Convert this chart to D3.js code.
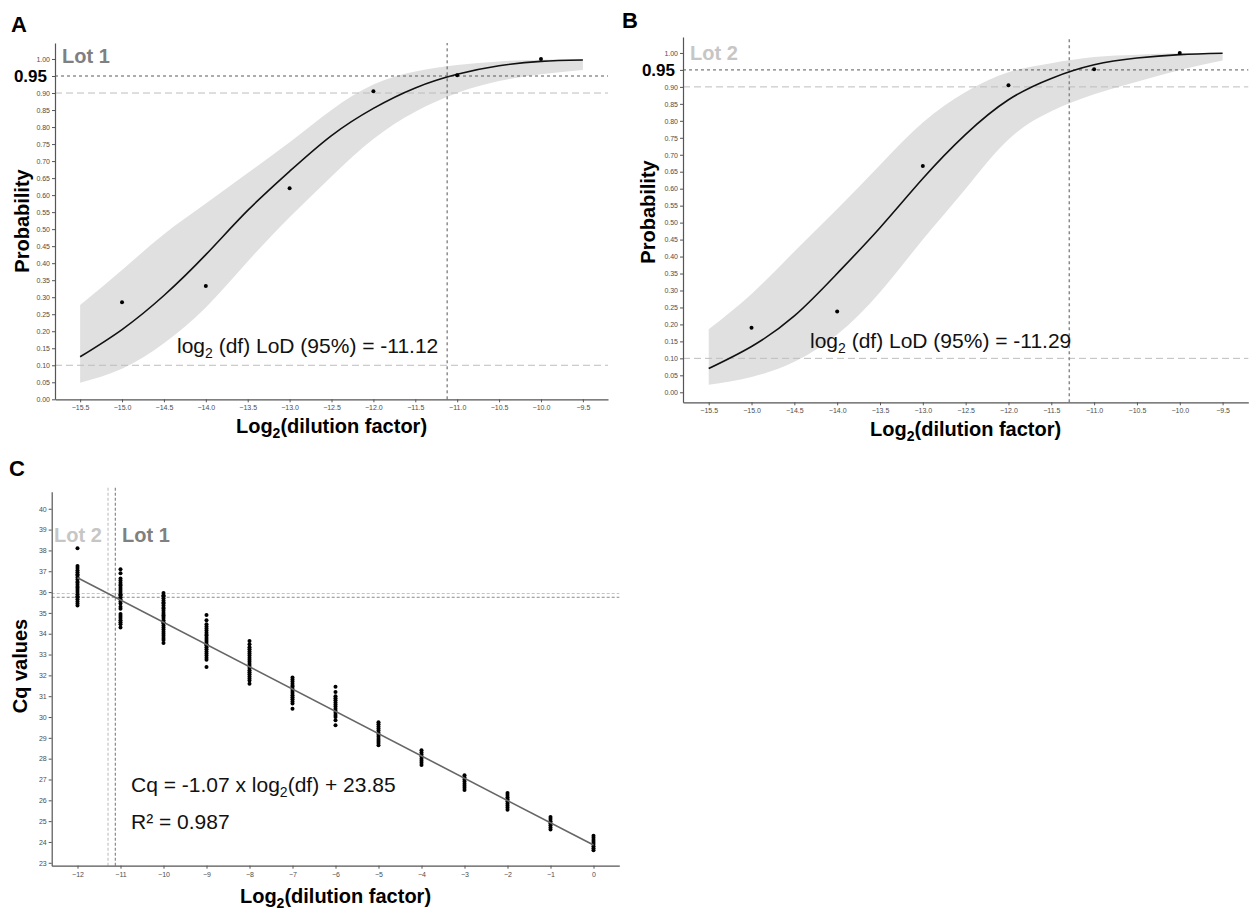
<!DOCTYPE html>
<html>
<head>
<meta charset="utf-8">
<script src="https://cdn.jsdelivr.net/npm/d3@7"></script>
<style>
  body { margin: 0; background: #fff; }
  svg { font-family: "Liberation Sans", Arial, sans-serif; }
  .tick text { fill: #4d4d4d; font-size: 7px; }
  .tick line { stroke: #555; }
  .domain { stroke: #555; stroke-width: 1.2; }
</style>
</head>
<body>
<div id="container"></div>
<script>
/* DATA */
// probit panels (A, B): fitted curve and confidence band read at every 0.5 log2 unit
const gridX = [-15.5, -15, -14.5, -14, -13.5, -13, -12.5, -12, -11.5, -11, -10.5, -10, -9.5];
const obsX = [-15, -14, -13, -12, -11, -10];

const lot1Obs = [0.285, 0.333, 0.62, 0.905, 0.952, 1.0];
const lot1Fit = [0.125, 0.205, 0.305, 0.425, 0.555, 0.67, 0.775, 0.855, 0.915, 0.955, 0.98, 0.993, 0.997];
const lot1Upper = [0.277, 0.38, 0.485, 0.575, 0.665, 0.755, 0.85, 0.925, 0.963, 0.982, 0.993, 0.998, 1.0];
const lot1Lower = [0.049, 0.09, 0.165, 0.27, 0.405, 0.535, 0.655, 0.765, 0.845, 0.9, 0.935, 0.955, 0.968];

const lot2Obs = [0.19, 0.238, 0.667, 0.905, 0.952, 1.0];
const lot2Fit = [0.07, 0.135, 0.225, 0.35, 0.485, 0.63, 0.76, 0.862, 0.925, 0.965, 0.985, 0.995, 0.999];
const lot2Upper = [0.186, 0.29, 0.415, 0.54, 0.67, 0.795, 0.885, 0.943, 0.97, 0.988, 0.995, 0.999, 1.0];
const lot2Lower = [0.022, 0.045, 0.09, 0.17, 0.295, 0.45, 0.6, 0.745, 0.828, 0.878, 0.915, 0.95, 0.978];

const lodLot1 = -11.12, lodLot2 = -11.29;
const refProbs = [0.95, 0.90, 0.10];

const probTicks = [0, 0.05, 0.1, 0.15, 0.2, 0.25, 0.3, 0.35, 0.4, 0.45, 0.5,
  0.55, 0.6, 0.65, 0.7, 0.75, 0.8, 0.85, 0.9, 0.95, 1.0];
const dilTicks = [-15.5, -15, -14.5, -14, -13.5, -13, -12.5, -12, -11.5, -11, -10.5, -10, -9.5];

// standard curve panel (C)
const cqX = [-12, -11, -10, -9, -8, -7, -6, -5, -4, -3, -2, -1, 0];
const cqColumns = [
  [38.1, 37.25, 37.15, 37.05, 36.95, 36.85, 36.8, 36.7, 36.6, 36.5, 36.45, 36.35, 36.25, 36.2, 36.1, 36.0, 35.9, 35.8, 35.75, 35.65, 35.55, 35.45, 35.35],
  [37.1, 36.9, 36.65, 36.55, 36.45, 36.35, 36.3, 36.2, 36.1, 36.0, 35.9, 35.85, 35.75, 35.65, 35.55, 35.45, 35.3, 35.2, 34.95, 34.85, 34.75, 34.65, 34.55, 34.45, 34.3],
  [35.95, 35.85, 35.8, 35.7, 35.6, 35.5, 35.45, 35.35, 35.25, 35.2, 35.1, 35.0, 34.9, 34.85, 34.75, 34.65, 34.55, 34.5, 34.4, 34.3, 34.2, 34.1, 34.0, 33.9, 33.8, 33.7, 33.55],
  [34.9, 34.65, 34.45, 34.35, 34.25, 34.15, 34.05, 33.95, 33.9, 33.8, 33.7, 33.6, 33.5, 33.45, 33.35, 33.25, 33.15, 33.05, 32.95, 32.85, 32.75, 32.4],
  [33.65, 33.5, 33.35, 33.25, 33.15, 33.05, 32.95, 32.85, 32.75, 32.65, 32.55, 32.45, 32.35, 32.25, 32.15, 32.05, 31.95, 31.85, 31.75, 31.6],
  [31.9, 31.8, 31.7, 31.6, 31.5, 31.45, 31.35, 31.25, 31.15, 31.05, 30.95, 30.85, 30.75, 30.65, 30.4],
  [31.45, 31.2, 31.0, 30.9, 30.8, 30.7, 30.6, 30.5, 30.4, 30.3, 30.2, 30.1, 30.0, 29.85, 29.6],
  [29.75, 29.65, 29.55, 29.45, 29.35, 29.25, 29.15, 29.05, 28.95, 28.85, 28.75, 28.65],
  [28.4, 28.3, 28.2, 28.1, 28.0, 27.9, 27.8, 27.7],
  [27.2, 27.1, 27.0, 26.9, 26.8, 26.7, 26.6, 26.5],
  [26.35, 26.25, 26.15, 26.05, 25.95, 25.85, 25.75, 25.65, 25.55],
  [25.2, 25.1, 25.0, 24.9, 24.8, 24.7, 24.6],
  [24.3, 24.2, 24.1, 24.0, 23.9, 23.8, 23.7, 23.6]
];
const fitLineX = [-12, 0];
const fitLineCq = [36.69, 23.85];
const cqLodLot1 = 35.75, cqLodLot2 = 35.93;
const cqTicks = [23, 24, 25, 26, 27, 28, 29, 30, 31, 32, 33, 34, 35, 36, 37, 38, 39, 40];

/* CONSTANTS */
const width = 1259, height = 912;
const lot1Color = "#808080", lot2Color = "#c6c6c6";

const svg = d3.select("#container")
  .append("svg")
  .attr("width", width)
  .attr("height", height);

svg.append("rect").attr("width", width).attr("height", height).attr("fill", "#fff");

// bold axis title with a subscript 2 in "Log2"
function log2Title(g, x, y) {
  const t = g.append("text")
    .attr("x", x).attr("y", y)
    .attr("text-anchor", "middle")
    .attr("font-weight", "bold")
    .attr("font-size", 20);
  t.append("tspan").text("Log");
  t.append("tspan").attr("font-size", 14).attr("dy", 5).text("2");
  t.append("tspan").attr("dy", -5).text("(dilution factor)");
}

function hLine(g, xs, y, color, dash, w) {
  g.append("line")
    .attr("x1", xs.range()[0]).attr("x2", xs.range()[1])
    .attr("y1", y).attr("y2", y)
    .attr("stroke", color).attr("stroke-width", w || 1)
    .attr("stroke-dasharray", dash);
}

/* PANELS A and B */
function probitPanel(opt) {
  const g = svg.append("g");

  const xScale = d3.scaleLinear().domain([-15.8, -9.2]).range([opt.x0, opt.x1]);
  const yScale = d3.scaleLinear().domain(opt.yDomain).range([opt.y0, opt.y1]);

  // confidence band
  const band = d3.area()
    .x((d, i) => xScale(gridX[i]))
    .y0((d, i) => yScale(opt.lower[i]))
    .y1((d, i) => yScale(opt.upper[i]))
    .curve(d3.curveNatural);
  g.append("path").datum(gridX).attr("d", band).attr("fill", "#e0e0e0");

  // reference lines
  hLine(g, xScale, yScale(refProbs[1]), "#bdbdbd", "7,4");
  hLine(g, xScale, yScale(refProbs[2]), "#bdbdbd", "7,4");
  hLine(g, xScale, yScale(refProbs[0]), "#5a5a5a", "3,3");
  g.append("line")
    .attr("x1", xScale(opt.lod)).attr("x2", xScale(opt.lod))
    .attr("y1", opt.y0).attr("y2", opt.y1)
    .attr("stroke", opt.vColor).attr("stroke-width", opt.vWidth)
    .attr("stroke-dasharray", "3,3");

  // fitted curve
  const line = d3.line()
    .x((d, i) => xScale(gridX[i]))
    .y(d => yScale(d))
    .curve(d3.curveNatural);
  g.append("path").datum(opt.fit).attr("d", line)
    .attr("fill", "none").attr("stroke", "#111").attr("stroke-width", 1.6);

  // observed hit rates
  g.selectAll(".pt")
    .data(opt.obs)
    .join("circle")
    .attr("cx", (d, i) => xScale(obsX[i]))
    .attr("cy", d => yScale(d))
    .attr("r", 2)
    .attr("fill", "#000");

  // axes (the 0.95 tick label is replaced by the large bold one)
  g.append("g")
    .attr("transform", `translate(0, ${opt.y0})`)
    .call(d3.axisBottom(xScale).tickValues(dilTicks).tickFormat(d3.format(".1f"))
      .tickSize(3).tickSizeOuter(0).tickPadding(3));
  g.append("g")
    .attr("transform", `translate(${opt.x0}, 0)`)
    .call(d3.axisLeft(yScale).tickValues(probTicks)
      .tickFormat(d => d === 0.95 ? "" : d3.format(".2f")(d))
      .tickSize(3).tickSizeOuter(0).tickPadding(2));

  // labels
  g.append("text").attr("x", opt.letterX).attr("y", opt.letterY)
    .attr("font-weight", "bold").attr("font-size", 22).text(opt.letter);
  g.append("text").attr("x", opt.x0 - 8).attr("y", yScale(0.95) + 6)
    .attr("text-anchor", "end").attr("font-weight", "bold").attr("font-size", 17).text("0.95");
  g.append("text").attr("x", opt.x0 + 7).attr("y", opt.lotY)
    .attr("font-weight", "bold").attr("font-size", 20).attr("fill", opt.lotColor).text(opt.lot);

  g.append("text")
    .attr("transform", `translate(${opt.yTitleX}, ${opt.yTitleY}) rotate(-90)`)
    .attr("text-anchor", "middle").attr("font-weight", "bold").attr("font-size", 20)
    .text("Probability");
  log2Title(g, (opt.x0 + opt.x1) / 2, opt.xTitleY);

  const t = g.append("text").attr("x", opt.lodTextX).attr("y", opt.lodTextY)
    .attr("font-size", 21).attr("fill", "#111");
  t.append("tspan").text("log");
  t.append("tspan").attr("font-size", 14).attr("dy", 5).text("2");
  t.append("tspan").attr("dy", -5).text(` (df) LoD (95%) = ${opt.lod.toFixed(2)}`);
}

probitPanel({
  letter: "A", letterX: 11, letterY: 32,
  x0: 55, x1: 608, y0: 399.3, y1: 43, yDomain: [0, 1.047],
  obs: lot1Obs, fit: lot1Fit, upper: lot1Upper, lower: lot1Lower,
  lod: lodLot1, vColor: "#555", vWidth: 1,
  lot: "Lot 1", lotColor: lot1Color, lotY: 63,
  yTitleX: 29, yTitleY: 221, xTitleY: 433,
  lodTextX: 177, lodTextY: 353
});

probitPanel({
  letter: "B", letterX: 622, letterY: 28,
  x0: 683, x1: 1248.3, y0: 402.3, y1: 37, yDomain: [-0.0295, 1.047],
  obs: lot2Obs, fit: lot2Fit, upper: lot2Upper, lower: lot2Lower,
  lod: lodLot2, vColor: "#8a8a8a", vWidth: 1.5,
  lot: "Lot 2", lotColor: lot2Color, lotY: 60,
  yTitleX: 655, yTitleY: 212, xTitleY: 436,
  lodTextX: 810, lodTextY: 348
});

/* PANEL C */
{
  const g = svg.append("g");
  const x0 = 51.7, x1 = 619.3, y0 = 865.7, y1 = 491.7;
  const xScale = d3.scaleLinear().domain([-12.6, 0.6]).range([x0, x1]);
  const yScale = d3.scaleLinear().domain([22.86, 40.82]).range([y0, y1]);

  // LoD guides
  hLine(g, xScale, yScale(cqLodLot2), "#c4c4c4", "3,2");
  hLine(g, xScale, yScale(cqLodLot1), "#8a8a8a", "3,2");
  [[lodLot2, "#c4c4c4"], [lodLot1, "#8a8a8a"]].forEach(([v, c]) => {
    g.append("line")
      .attr("x1", xScale(v)).attr("x2", xScale(v))
      .attr("y1", y0).attr("y2", y1 - 5)
      .attr("stroke", c).attr("stroke-width", 1.2).attr("stroke-dasharray", "3,2");
  });

  // points
  const pts = cqColumns.flatMap((col, i) => col.map(v => ({ x: cqX[i], cq: v })));
  g.selectAll(".cq")
    .data(pts)
    .join("circle")
    .attr("cx", d => xScale(d.x))
    .attr("cy", d => yScale(d.cq))
    .attr("r", 2)
    .attr("fill", "#000");

  // regression line
  g.append("line")
    .attr("x1", xScale(fitLineX[0])).attr("y1", yScale(fitLineCq[0]))
    .attr("x2", xScale(fitLineX[1])).attr("y2", yScale(fitLineCq[1]))
    .attr("stroke", "#666").attr("stroke-width", 1.6);

  // axes
  g.append("g")
    .attr("transform", `translate(0, ${y0})`)
    .call(d3.axisBottom(xScale).tickValues(cqX).tickFormat(d3.format("d"))
      .tickSize(3).tickSizeOuter(0).tickPadding(3));
  g.append("g")
    .attr("transform", `translate(${x0}, 0)`)
    .call(d3.axisLeft(yScale).tickValues(cqTicks).tickFormat(d3.format("d"))
      .tickSize(3).tickSizeOuter(0).tickPadding(2));

  // labels
  g.append("text").attr("x", 9).attr("y", 476)
    .attr("font-weight", "bold").attr("font-size", 22).text("C");
  g.append("text").attr("x", 54).attr("y", 542)
    .attr("font-weight", "bold").attr("font-size", 20).attr("fill", lot2Color).text("Lot 2");
  g.append("text").attr("x", 122).attr("y", 542)
    .attr("font-weight", "bold").attr("font-size", 20).attr("fill", lot1Color).text("Lot 1");

  g.append("text")
    .attr("transform", `translate(27, 666) rotate(-90)`)
    .attr("text-anchor", "middle").attr("font-weight", "bold").attr("font-size", 20)
    .text("Cq values");
  log2Title(g, (x0 + x1) / 2, 903);

  const eq = g.append("text").attr("x", 131).attr("y", 792).attr("font-size", 21).attr("fill", "#111");
  eq.append("tspan").text("Cq = -1.07 x log");
  eq.append("tspan").attr("font-size", 14).attr("dy", 5).text("2");
  eq.append("tspan").attr("dy", -5).text("(df) + 23.85");
  g.append("text").attr("x", 131).attr("y", 829).attr("font-size", 21).attr("fill", "#111")
    .text("R² = 0.987");
}
</script>
</body>
</html>
